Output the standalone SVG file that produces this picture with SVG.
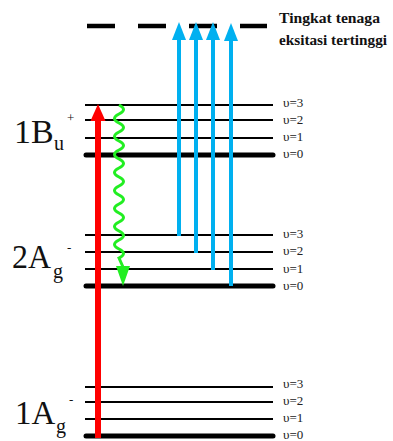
<svg xmlns="http://www.w3.org/2000/svg" width="393" height="441" viewBox="0 0 393 441">
  <defs>
    <style>
      .lv { stroke: #000; stroke-width: 2; }
      .lv0 { stroke: #000; stroke-width: 5; stroke-linecap: round; }
      .vib { font-family: "Liberation Serif", "DejaVu Serif", serif; font-size: 13px; fill: #222; }
      .st { font-family: "Liberation Serif", serif; fill: #111; }
      .blue { stroke: #00b0f0; stroke-width: 4; fill: none; }
      .blueHead { fill: #00b0f0; }
    </style>
  </defs>
  <rect width="393" height="441" fill="#fff"/>

  <!-- highest excited level (dashed) -->
  <g id="level-top">
    <line x1="87" y1="26" x2="267" y2="26" stroke="#000" stroke-width="4.5" stroke-dasharray="28,23"/>
    <text x="279" y="23" font-family="Liberation Serif, serif" font-size="14.5" font-weight="bold" fill="#111" textLength="101" lengthAdjust="spacingAndGlyphs">Tingkat tenaga</text>
    <text x="279" y="45" font-family="Liberation Serif, serif" font-size="14.5" font-weight="bold" fill="#111" textLength="108" lengthAdjust="spacingAndGlyphs">eksitasi tertinggi</text>
  </g>

  <!-- 1Bu+ manifold -->
  <g id="state-1Bu">
    <line class="lv" x1="85" y1="105" x2="273" y2="105"/>
    <line class="lv" x1="85" y1="120" x2="273" y2="120"/>
    <line class="lv" x1="85" y1="138" x2="273" y2="138"/>
    <line class="lv0" x1="86" y1="155" x2="273" y2="155"/>
    <text class="vib" x="283" y="107">υ=3</text>
    <text class="vib" x="283" y="124">υ=2</text>
    <text class="vib" x="283" y="141">υ=1</text>
    <text class="vib" x="283" y="158">υ=0</text>
    <text class="st" x="14" y="143" font-size="34">1B</text>
    <text class="st" x="54" y="150" font-size="20">u</text>
    <text class="st" x="67" y="122" font-size="13">+</text>
  </g>

  <!-- 2Ag- manifold -->
  <g id="state-2Ag">
    <line class="lv" x1="85" y1="235" x2="273" y2="235"/>
    <line class="lv" x1="85" y1="252" x2="273" y2="252"/>
    <line class="lv" x1="85" y1="269" x2="273" y2="269"/>
    <line class="lv0" x1="86" y1="286" x2="273" y2="286"/>
    <text class="vib" x="283" y="238">υ=3</text>
    <text class="vib" x="283" y="255">υ=2</text>
    <text class="vib" x="283" y="273">υ=1</text>
    <text class="vib" x="283" y="290">υ=0</text>
    <text class="st" x="12" y="268" font-size="34" textLength="39" lengthAdjust="spacingAndGlyphs">2A</text>
    <text class="st" x="53" y="278" font-size="20">g</text>
    <text class="st" x="67" y="252" font-size="13">-</text>
  </g>

  <!-- 1Ag- ground manifold -->
  <g id="state-1Ag">
    <line class="lv" x1="85" y1="387" x2="273" y2="387"/>
    <line class="lv" x1="85" y1="402" x2="273" y2="402"/>
    <line class="lv" x1="85" y1="419" x2="273" y2="419"/>
    <line class="lv0" x1="86" y1="436" x2="273" y2="436"/>
    <text class="vib" x="283" y="388">υ=3</text>
    <text class="vib" x="283" y="405">υ=2</text>
    <text class="vib" x="283" y="422">υ=1</text>
    <text class="vib" x="283" y="439">υ=0</text>
    <text class="st" x="15" y="424" font-size="33">1A</text>
    <text class="st" x="56" y="433" font-size="20">g</text>
    <text class="st" x="69" y="404" font-size="13">-</text>
  </g>

  <g id="connectors">
    <!-- absorption 1Ag -> 1Bu -->
    <line x1="98" y1="438" x2="98" y2="118" stroke="#ff0000" stroke-width="6"/>
    <polygon points="98,104 90.5,121 105.5,121" fill="#ff0000"/>

    <!-- internal conversion 1Bu -> 2Ag (wavy) -->
    <path d="M119,105 q9,4.5 0,9 q-9,4.5 0,9 q9,4.5 0,9 q-9,4.5 0,9 q9,4.5 0,9 q-9,4.5 0,9 q9,4.5 0,9 q-9,4.5 0,9 q9,4.5 0,9 q-9,4.5 0,9 q9,4.5 0,9 q-9,4.5 0,9 q9,4.5 0,9 q-9,4.5 0,9 q9,4.5 0,9 q-9,4.5 0,9 q9,4.5 0,9 L123,267" stroke="#22ee22" stroke-width="3" fill="none"/>
    <polygon points="123,286 116,266 130,266" fill="#22ee22"/>

    <!-- excited-state absorption 2Ag -> highest level -->
    <line class="blue" x1="179" y1="236" x2="179" y2="38"/>
    <polygon class="blueHead" points="179,22 172,40 186,40"/>
    <line class="blue" x1="196" y1="253" x2="196" y2="38"/>
    <polygon class="blueHead" points="196,22 189,40 203,40"/>
    <line class="blue" x1="213" y1="270" x2="213" y2="38"/>
    <polygon class="blueHead" points="213,22 206,40 220,40"/>
    <line class="blue" x1="231" y1="286" x2="231" y2="39"/>
    <polygon class="blueHead" points="231,23 224,41 238,41"/>
  </g>
</svg>
